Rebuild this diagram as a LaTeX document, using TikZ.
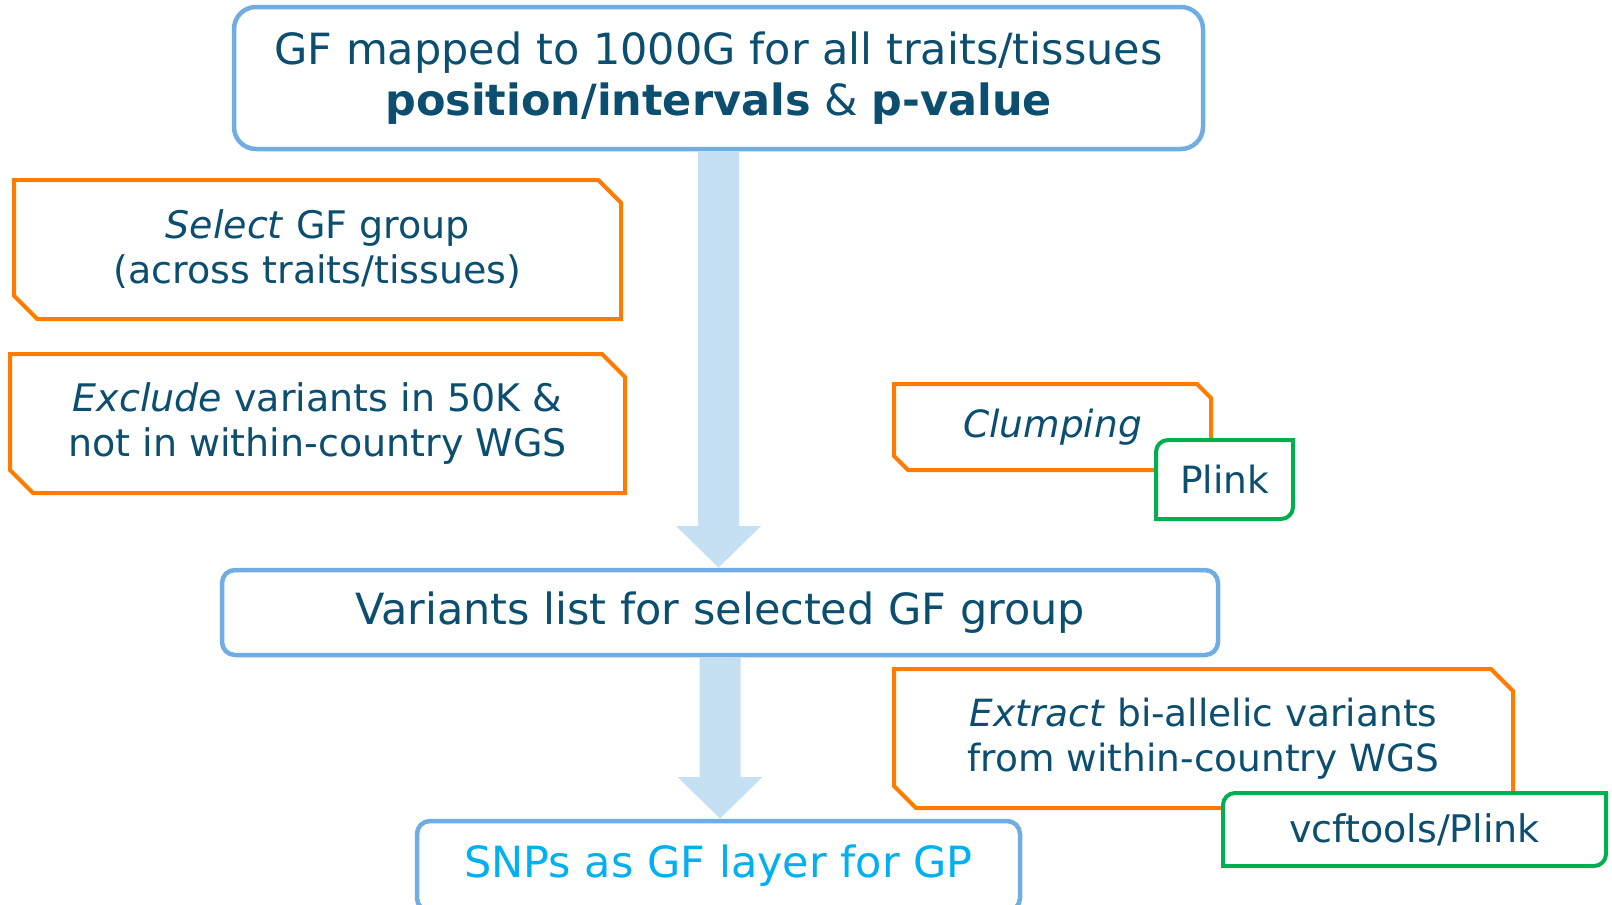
\documentclass[tikz,border=0pt]{standalone}
\usepackage{fontspec}
\setmainfont{DejaVu Sans}
\usetikzlibrary{calc}
\definecolor{ink}{RGB}{11,78,112}
\definecolor{frameblue}{RGB}{112,173,226}
\definecolor{arrowblue}{RGB}{197,223,243}
\definecolor{steporange}{RGB}{255,124,0}
\definecolor{toolgreen}{RGB}{0,176,80}
\definecolor{resultcyan}{RGB}{0,176,240}
% chamfered outline (north-east and south-west corners cut) around a node
\newcommand\chamferframe[2]{%
  \draw[taskline] (#1.north west) -- ($(#1.north east)+(-#2,0)$) -- ($(#1.north east)+(0,#2)$)
    -- (#1.south east) -- ($(#1.south west)+(#2,0)$) -- ($(#1.south west)+(0,-#2)$) -- cycle;}
% outline with rounded north-west and south-east corners
\newcommand\toolframe[2]{%
  \draw[toolline] (#1.south west) -- ($(#1.north west)+(0,#2)$) arc[start angle=180,end angle=270,radius=#2]
    -- (#1.north east) -- ($(#1.south east)+(0,-#2)$) arc[start angle=0,end angle=90,radius=#2] -- cycle;}
\begin{document}
\begin{tikzpicture}[x=1pt,y=-1pt,
  stage/.style={draw=frameblue, line width=4.5pt, fill=white, text=ink, align=center,
    inner sep=0pt, outer sep=0pt, font=\fontsize{43pt}{51pt}\selectfont},
  task/.style={inner sep=0pt, outer sep=0pt, text=ink, align=center,
    font=\fontsize{38pt}{45pt}\selectfont},
  taskline/.style={draw=steporange, line width=4pt, line join=miter},
  tool/.style={fill=white, inner sep=0pt, outer sep=0pt, text=ink,
    font=\fontsize{38pt}{45pt}\selectfont},
  toolline/.style={draw=toolgreen, line width=4pt},
  flowarrow/.style={fill=arrowblue}]
\clip (0,0) rectangle (1612,905);

% main pipeline stages
\node[stage, rounded corners=22pt, minimum width=969pt, minimum height=142pt] (gf) at (718.5,78)
  {GF mapped to 1000G for all traits/tissues\\\textbf{position/intervals} \& \textbf{p-value}};
\node[stage, rounded corners=13pt, minimum width=996pt, minimum height=85pt] (variants) at (720,612.5)
  {Variants list for selected GF group};
\node[stage, rounded corners=13pt, minimum width=603pt, minimum height=90pt, text=resultcyan] (snps) at (718.5,866)
  {SNPs as GF layer for GP};

% block arrows between the stages
\fill[flowarrow] let \p1=(gf.south), \p2=(variants.north) in
  (\x1-20.5pt,\y1-2pt) -- (\x1-20.5pt,\y2+44pt) -- (\x1-42.5pt,\y2+44pt) -- (\x1,\y2+2.5pt)
  -- (\x1+42.5pt,\y2+44pt) -- (\x1+20.5pt,\y2+44pt) -- (\x1+20.5pt,\y1-2pt) -- cycle;
\fill[flowarrow] let \p1=(variants.south), \p2=(snps.north) in
  (\x1-20.5pt,\y1-2pt) -- (\x1-20.5pt,\y2+44pt) -- (\x1-42.5pt,\y2+44pt) -- (\x1,\y2+2.5pt)
  -- (\x1+42.5pt,\y2+44pt) -- (\x1+20.5pt,\y2+44pt) -- (\x1+20.5pt,\y1-2pt) -- cycle;

% processing steps
\node[task, minimum width=607pt, minimum height=139pt] (select) at (317.7,249.5)
  {\textit{Select} GF group\\(across traits/tissues)};
\chamferframe{select}{23}
\node[task, minimum width=615pt, minimum height=139pt] (exclude) at (317.5,423.5)
  {\textit{Exclude} variants in 50K \&\\not in within-country WGS};
\chamferframe{exclude}{23}
\node[task, minimum width=317pt, minimum height=86pt, font=\fontsize{37.5pt}{45pt}\selectfont] (clump) at (1052.5,427)
  {\textit{Clumping}};
\chamferframe{clump}{14}
\node[task, minimum width=619pt, minimum height=139pt, font=\fontsize{37.5pt}{45pt}\selectfont] (extract) at (1203.5,738.5)
  {\textit{Extract} bi-allelic variants\\from within-country WGS};
\chamferframe{extract}{22}

% software used for the steps
\node[tool, minimum width=137pt, minimum height=79pt, font=\fontsize{37.5pt}{45pt}\selectfont] (plink) at (1224.5,479.5) {Plink};
\toolframe{plink}{12}
\node[tool, minimum width=383pt, minimum height=73pt] (vcftools) at (1414.5,829.5) {vcftools/Plink};
\toolframe{vcftools}{12}
\end{tikzpicture}
\end{document}
